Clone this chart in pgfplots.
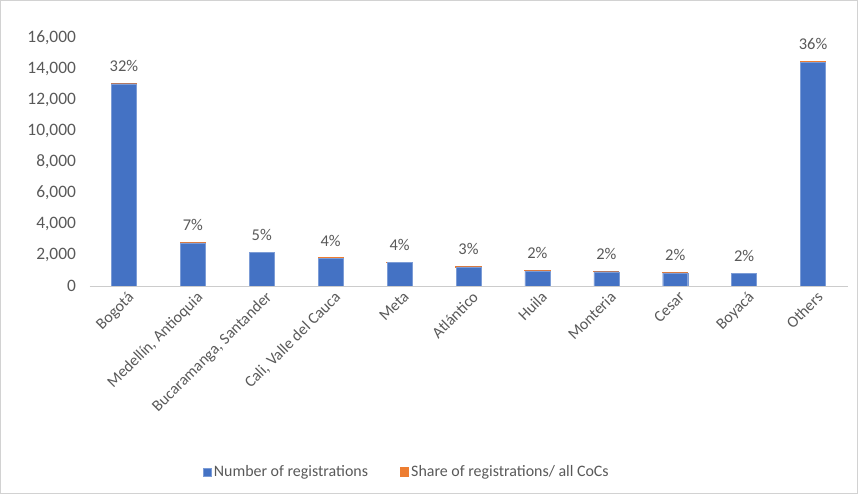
\documentclass[border=0pt]{standalone}
\usepackage{pgfplots}
\pgfplotsset{compat=1.18}
\usepackage{fontspec}
\setmainfont{Carlito}
\definecolor{cblue}{HTML}{4472C4}
\definecolor{corange}{HTML}{ED7D31}
\definecolor{tgray}{HTML}{595959}
\begin{document}
\begin{tikzpicture}
\path[draw=gray!35, line width=0.6bp] (0.3bp,0.3bp) rectangle (857.7bp,493.7bp);
\begin{axis}[
  at={(89.5bp,208bp)}, anchor=south west,
  scale only axis, width=758bp, height=248bp,
  ybar stacked, bar width=25bp,
  xmin=-0.5, xmax=10.5, ymin=0, ymax=16000,
  ytick={0,2000,...,16000},
  xtick={0,...,10},
  xticklabels={Bogotá,{Medellín, Antioquia},{Bucaramanga, Santander},{Cali, Valle del Cauca},Meta,Atlántico,Huila,Monteria,Cesar,Boyacá,Others},
  xticklabel style={rotate=45, anchor=north east, font=\fontsize{16}{18}\selectfont, text=tgray, inner sep=1bp, yshift=-4bp},
  yticklabel style={font=\fontsize{17.5}{20}\selectfont, text=tgray, xshift=-10bp},
  /pgf/number format/1000 sep={,},
  /pgf/number format/assume math mode=true,
  scaled y ticks=false,
  axis x line*=bottom, axis y line*=left,
  x axis line style={draw=gray!40, line width=1bp, -},
  y axis line style={draw=none},
  tick style={draw=none},
  legend columns=2,
  legend style={at={(0.419,-0.75)}, anchor=center, draw=none, font=\fontsize{16}{18}\selectfont, text=tgray, /tikz/every even column/.append style={column sep=30bp}},
  legend image code/.code={\fill[#1] (0bp,-4bp) rectangle (8bp,4bp);},
]
\addplot[fill=cblue, draw=cblue!70!white, line width=0.4bp] coordinates {
 (0,13050) (1,2790) (2,2170) (3,1800) (4,1530) (5,1230) (6,980) (7,920) (8,850) (9,800) (10,14450)};
\addlegendentry{Number of registrations}
\addplot[fill=corange, draw=corange, line width=1.2bp,
  nodes near coords, point meta=explicit symbolic,
  every node near coord/.append style={font=\fontsize{16.5}{18}\selectfont, text=tgray, anchor=south, yshift=8bp}]
  coordinates {
 (0,0.32) [32\%] (1,0.07) [7\%] (2,0.05) [5\%] (3,0.04) [4\%] (4,0.04) [4\%] (5,0.03) [3\%] (6,0.02) [2\%] (7,0.02) [2\%] (8,0.02) [2\%] (9,0.02) [2\%] (10,0.36) [36\%]};
\addlegendentry{Share of registrations/ all CoCs}
\end{axis}
\end{tikzpicture}
\end{document}
